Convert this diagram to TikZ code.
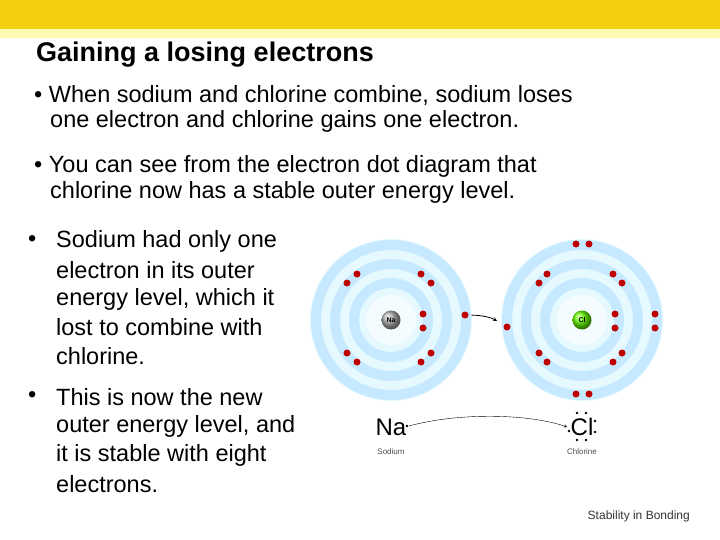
\documentclass[tikz,border=0pt]{standalone}
\usepackage{fontspec}
\setmainfont{Liberation Sans}
\begin{document}
\begin{tikzpicture}[x=1pt,y=-1pt,
  txt/.style={anchor=west,font=\fontsize{23.5}{27}\selectfont,inner sep=0},
  el/.style={circle,fill=red!75!black,inner sep=0,minimum size=7pt},
  nuc/.style={circle,inner sep=0,minimum size=19pt,font=\fontsize{7}{8}\selectfont\bfseries},
  lew/.style={font=\fontsize{24}{27}\selectfont,inner sep=1pt},
  captxt/.style={font=\fontsize{8}{9}\selectfont,text=black!70}]
\useasboundingbox (0,0) rectangle (720,540);
\fill[yellow!75!orange!95!black] (0,0) rectangle (720,29);
\fill[yellow!30] (0,29) rectangle (720,38);
\node[anchor=west,font=\fontsize{27}{30}\selectfont\bfseries,inner sep=0] (title) at (36,55) {Gaining a losing electrons};
\node[txt] (b1) at (34,95) {\textbullet\ When sodium and chlorine combine, sodium loses};
\node[txt] (b1b) at (50,121) {one electron and chlorine gains one electron.};
\node[txt] (b2) at (34,166) {\textbullet\ You can see from the electron dot diagram that};
\node[txt] (b2b) at (50,192) {chlorine now has a stable outer energy level.};
\node[txt] (c1) at (28,241) {\textbullet};
\node[txt] (c1a) at (56,241) {Sodium had only one};
\node[txt] (c1b) at (56,270) {electron in its outer};
\node[txt] (c1c) at (56,299) {energy level, which it};
\node[txt] (c1d) at (56,327) {lost to combine with};
\node[txt] (c1e) at (56,356) {chlorine.};
\node[txt] (c2) at (28,397) {\textbullet};
\node[txt] (c2a) at (56,397) {This is now the new};
\node[txt] (c2b) at (56,426) {outer energy level, and};
\node[txt] (c2c) at (56,455) {it is stable with eight};
\node[txt] (c2d) at (56,484) {electrons.};
% atoms
\foreach \cx in {391,582}{
  \fill[blue!25!cyan!10] (\cx,320) circle (81);
  \foreach \r in {75,56,37}{\draw[draw=blue!40!cyan!22,line width=10pt] (\cx,320) circle (\r);}
  \fill[white,opacity=0.6] (\cx,320) circle (25);
}
\node[nuc,ball color=gray!60,text=black] (na) at (391,320) {Na};
\node[nuc,ball color=green!60!yellow,text=black] (cl) at (582,320) {Cl};
\foreach \p in {(357,274),(347,283),(421,274),(431,283),(423,314),(423,328),(347,353),(357,362),(431,353),(421,362),
  (547,274),(539,283),(613,274),(622,283),(615,314),(615,328),(539,353),(547,362),(622,353),(613,362),(576,244),(589,244),(576,394),(589,394),(655,314),(655,328)}
  \node[el] at \p {};
\node[el] (e1) at (465,315) {};
\node[el] (e2) at (507,327) {};
\draw[-stealth,thick,shorten <=3pt,shorten >=8pt] (e1) to[bend left=15] (e2);
% Lewis
\node[lew] (lna) at (391,427) {Na};
\node[lew] (lcl) at (582,427) {Cl};
\foreach \p in {(407,426),(569,431),(577,413),(586,413),(577,440),(586,440),(595,421),(595,432)}
  \fill \p circle (1.3);
\coordinate (s) at (409,426);
\coordinate (t) at (567,427);
\draw[-stealth,thin] (s) .. controls (460,412) and (530,414) .. (t);
\node[captxt] (lsod) at (391,452) {Sodium};
\node[captxt] (lchl) at (582,452) {Chlorine};
\node[anchor=east,font=\fontsize{12}{14}\selectfont,text=black!80,inner sep=0] (foot) at (690,516) {Stability in Bonding};
\end{tikzpicture}
\end{document}
